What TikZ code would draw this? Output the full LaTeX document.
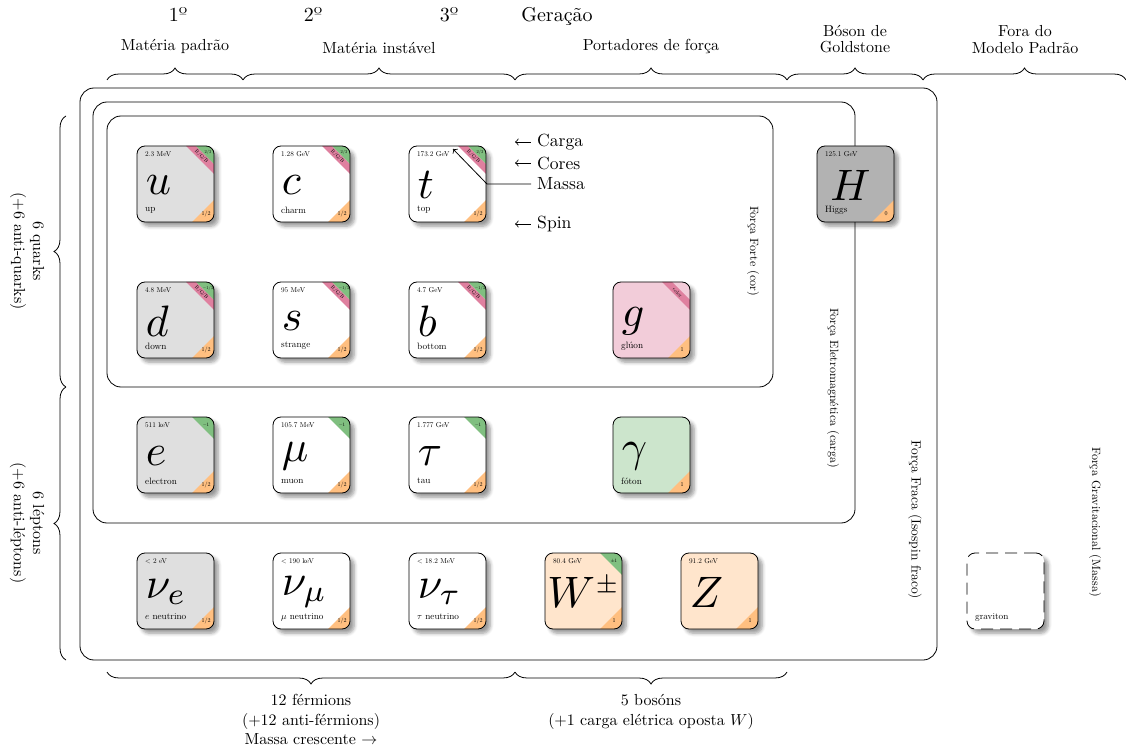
\documentclass[tikz,border=0pt]{standalone}
\usepackage{fontspec}
\usepackage{etoolbox}
\usetikzlibrary{shadows.blur,decorations.pathreplacing,calc}
\colorlet{purplec}{purple!50}
\colorlet{greenc}{green!50!black!50}
\colorlet{orangec}{orange!50}
\tikzset{
  cardbox/.style={anchor=north west, minimum width=38.5pt, minimum height=38pt,
    inner sep=0pt, outer sep=0pt, rounded corners=4pt,
    blur shadow={shadow blur steps=5}},
  nosep/.style={inner sep=0pt},
  region/.style={rounded corners=7pt},
  brace/.style={decorate, decoration={brace, amplitude=6pt}},
  mbrace/.style={decorate, decoration={brace, amplitude=6pt, mirror}},
  toplabel/.style={scale=0.8, align=center, anchor=south, font=\linespread{0.85}\selectfont},
  leftlabel/.style={scale=0.8, align=center, anchor=north, rotate=-90},
  bottomlabel/.style={scale=0.8, align=center, anchor=north},
  force/.style={rotate=-90, scale=0.6},
  legend/.style={anchor=west, scale=0.88},
  gen/.style={anchor=base},
}
% #1 name, #2 top-left, #3 fill, #4 symbol, #5 charge, #6 spin, #7 mass, #8 label, #9 colours
\newcommand\particle[9]{%
  \node[cardbox, fill=#3] (#1) at (#2) {};
  \begin{scope}[shift={(#2)}]
    \clip[rounded corners=4pt] (0,0) rectangle (77,76);
    \ifstrempty{#9}{%
      \ifstrempty{#5}{}{\fill[greenc] (55,0) -- (77,0) -- (77,22) -- cycle;}%
    }{%
      \fill[purplec] (49,0) -- (59,0) -- (77,18) -- (77,28) -- cycle;
      \ifstrempty{#5}{}{\fill[greenc] (59,0) -- (77,0) -- (77,18) -- cycle;}%
    }
    \ifstrempty{#6}{}{\fill[orangec] (77,54) -- (77,76) -- (55,76) -- cycle;}
  \end{scope}
  \draw[rounded corners=4pt] (#1.north west) rectangle (#1.south east);
  \begin{scope}[shift={(#2)}]
    \ifstrempty{#9}{%
      \ifstrempty{#5}{}{\node[nosep, scale=0.25] (#1-q) at (69,8) {#5};}%
    }{%
      \node[nosep, rotate=-45, scale=0.26] (#1-col) at (64.5,10.5) {#9};
      \ifstrempty{#5}{}{\node[nosep, scale=0.22] (#1-q) at (71,6) {#5};}%
    }
    \ifstrempty{#6}{}{\node[nosep, scale=0.3] (#1-s) at (69,68) {#6};}
    \ifstrempty{#7}{}{\node[nosep, anchor=west, scale=0.36] (#1-m) at (8,8) {#7};}
    \ifstrempty{#8}{}{\node[nosep, anchor=west, scale=0.46] (#1-n) at (8,64) {#8};}
    \ifstrempty{#4}{}{\node[nosep, anchor=west, scale=2.2] (#1-sym) at (8,39) {#4};}
  \end{scope}
}
\begin{document}
\begin{tikzpicture}[x=0.5pt, y=-0.5pt]
\useasboundingbox (0,0) rectangle (1126,749);

% force regions
\draw[region] (107,116) rectangle (773,387);
\draw[region] (93,102) rectangle (855,523);
\draw[region] (80,88) rectangle (937,660);

\node[force] (fforte) at (753,251) {Força Forte (cor)};
\node[force] (fem) at (833,388) {Força Eletromagnética (carga)};
\node[force, scale=1.12] (ffraca) at (915,520) {Força Fraca (Isospin fraco)};
\node[force] (fgrav) at (1095,522) {Força Gravitacional (Massa)};

% particles
\particle{u}{137,146}{gray!25}{$u$}{2/3}{1/2}{2.3 MeV}{up}{R/G/B}
\particle{c}{273,146}{white}{$c$}{2/3}{1/2}{1.28 GeV}{charm}{R/G/B}
\particle{t}{409,146}{white}{$t$}{2/3}{1/2}{173.2 GeV}{top}{R/G/B}
\particle{H}{817,146}{gray!60}{\hspace{1pt}$H$}{}{0}{125.1 GeV}{Higgs}{}

\particle{d}{137,282}{gray!25}{$d$}{$-1/3$}{1/2}{4.8 MeV}{down}{R/G/B}
\particle{s}{273,282}{white}{$s$}{$-1/3$}{1/2}{95 MeV}{strange}{R/G/B}
\particle{b}{409,282}{white}{$b$}{$-1/3$}{1/2}{4.7 GeV}{bottom}{R/G/B}
\particle{g}{613,282}{purple!20}{$g$}{}{1}{}{glúon}{color}

\particle{e}{137,417}{gray!25}{$e$}{$-1$}{1/2}{511 keV}{electron}{}
\particle{mu}{273,417}{white}{$\mu$}{$-1$}{1/2}{105.7 MeV}{muon}{}
\particle{tau}{409,417}{white}{$\tau$}{$-1$}{1/2}{1.777 GeV}{tau}{}
\particle{gamma}{613,417}{green!50!black!20}{$\gamma$}{}{1}{}{fóton}{}

\particle{nue}{137,553}{gray!25}{$\nu_e$}{}{1/2}{$<$ 2 eV}{$e$ neutrino}{}
\particle{numu}{273,553}{white}{$\nu_\mu$}{}{1/2}{$<$ 190 keV}{$\mu$ neutrino}{}
\particle{nutau}{409,553}{white}{$\nu_\tau$}{}{1/2}{$<$ 18.2 MeV}{$\tau$ neutrino}{}
\particle{W}{545,553}{orange!20}{\hspace{-1.5pt}$W^{\scriptscriptstyle\pm}$}{$\pm1$}{1}{80.4 GeV}{}{}
\particle{Z}{681,553}{orange!20}{$Z$}{}{1}{91.2 GeV}{}{}

% graviton
\node[cardbox, fill=white, draw, dash pattern=on 6pt off 3.5pt] (grav) at (967,553) {};
\node[nosep, anchor=west, scale=0.46] (grav-n) at (975,617) {graviton};

% legend
\node[legend] (lcarga) at (531,142) {Carga};
\node[legend] (lcores) at (531,163) {Cores};
\node[legend] (lmassa) at (531,184) {Massa};
\node[legend] (lspin) at (531,224) {Spin};
\coordinate (acarga) at (515,142);
\coordinate (acores) at (515,163);
\coordinate (amassa) at (453,149);
\coordinate (bmassa) at (487,184);
\coordinate (aspin) at (515,224);
\draw[<-] (acarga) -- (lcarga.west);
\draw[<-] (acores) -- (lcores.west);
\draw[<-] (amassa) -- (bmassa) -- (lmassa.west);
\draw[<-] (aspin) -- (lspin.west);

% generations
\node[gen] (g1) at (178,22) {1º};
\node[gen] (g2) at (313,22) {2º};
\node[gen] (g3) at (449,22) {3º};
\node[gen] (g0) at (557,22) {Geração};

% top braces
\coordinate (t0) at (107,80);
\coordinate (t1) at (243,80);
\coordinate (t2) at (515,80);
\coordinate (t3) at (787,80);
\coordinate (t4) at (923,80);
\coordinate (t5) at (1126,80);
\draw[brace] (t0) -- (t1);
\draw[brace] (t1) -- (t2);
\draw[brace] (t2) -- (t3);
\draw[brace] (t3) -- (t4);
\draw[brace] (t4) -- (t5);
\node[toplabel] (lpadrao) at (175,59) {Matéria padrão};
\node[toplabel] (linst) at (379,59) {Matéria instável};
\node[toplabel] (lport) at (651,59) {Portadores de força};
\node[toplabel] (lgold) at (855,59) {Bóson de\\Goldstone};
\node[toplabel] (lfora) at (1025,59) {Fora do\\Modelo Padrão};

% left braces
\coordinate (l0) at (66,116);
\coordinate (l1) at (66,387);
\coordinate (l2) at (66,660);
\draw[brace] (l1) -- (l0);
\draw[brace] (l2) -- (l1);
\node[leftlabel] (lquarks) at (50,251) {6 quarks\\(+6 anti-quarks)};
\node[leftlabel] (lleptons) at (50,523) {6 léptons\\(+6 anti-léptons)};

% bottom braces
\coordinate (b0) at (107,672);
\coordinate (b1) at (515,672);
\coordinate (b2) at (787,672);
\draw[mbrace] (b0) -- (b1);
\draw[mbrace] (b1) -- (b2);
\node[bottomlabel] (lferm) at (311,689) {12 férmions\\(+12 anti-férmions)\\Massa crescente $\rightarrow$};
\node[bottomlabel] (lbos) at (651,689) {5 bosóns\\(+1 carga elétrica oposta $W$)};
\end{tikzpicture}
\end{document}
